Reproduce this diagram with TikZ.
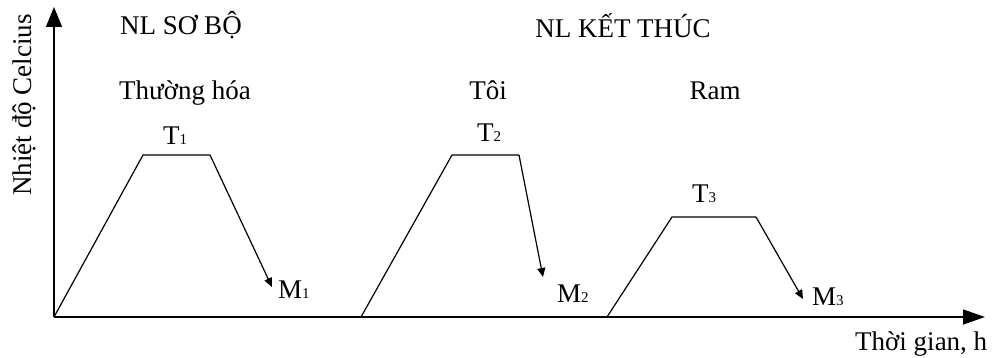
\documentclass[tikz,border=0pt]{standalone}
\usepackage{fontspec}
\setmainfont{Liberation Serif}
\usetikzlibrary{arrows.meta}
\newcommand{\sbs}[1]{{\fontsize{15}{15}\selectfont #1}}
\begin{document}
\begin{tikzpicture}[x=1pt,y=-1pt,
  lbl/.style={font=\fontsize{27}{30}\selectfont, inner sep=0pt, anchor=base},
  curve/.style={line width=1.2pt},
  cool/.style={line width=1.2pt, -{Triangle[length=9pt,width=8pt]}},
  axis/.style={line width=1.4pt}]
\useasboundingbox (0,0) rectangle (993,358);
\fill[white] (0,0) rectangle (993,358);
% axes
\coordinate (O) at (54,317);
\coordinate (ytop) at (54,7);
\coordinate (xend) at (985,317);
\draw[axis, -{Triangle[length=20pt,width=16pt]}] (O) -- (ytop);
\draw[axis, -{Triangle[length=22pt,width=15pt]}] (O) -- (xend);
% cycle 1
\coordinate (a1) at (54,317);
\coordinate (b1) at (143,155);
\coordinate (c1) at (210,155);
\coordinate (d1) at (272,287);
\draw[curve] (a1) -- (b1) -- (c1);
\draw[cool] (c1) -- (d1);
% cycle 2
\coordinate (a2) at (361,317);
\coordinate (b2) at (452,155);
\coordinate (c2) at (519,155);
\coordinate (d2) at (543,277);
\draw[curve] (a2) -- (b2) -- (c2);
\draw[cool] (c2) -- (d2);
% cycle 3
\coordinate (a3) at (607,317);
\coordinate (b3) at (672,217);
\coordinate (c3) at (756,217);
\coordinate (d3) at (803,299);
\draw[curve] (a3) -- (b3) -- (c3);
\draw[cool] (c3) -- (d3);
% labels
\node[lbl, rotate=90, anchor=center] (ylab) at (24,105) {Nhiệt độ Celcius};
\node[lbl] (nl1) at (181,35) {NL SƠ BỘ};
\node[lbl] (nl2) at (623,38) {NL KẾT THÚC};
\node[lbl] (th) at (185,100) {Thường hóa};
\node[lbl] (toi) at (488,100) {Tôi};
\node[lbl] (ram) at (715,100) {Ram};
\node[lbl, anchor=base west] (t1) at (163,145) {T\sbs{1}};
\node[lbl, anchor=base west] (t2) at (477,142) {T\sbs{2}};
\node[lbl, anchor=base west] (t3) at (692,203) {T\sbs{3}};
\node[lbl, anchor=base west] (m1) at (278,298) {M\sbs{1}};
\node[lbl, anchor=base west] (m2) at (557,302) {M\sbs{2}};
\node[lbl, anchor=base west] (m3) at (812,305) {M\sbs{3}};
\node[lbl, anchor=base west] (xlab) at (855,350) {Thời gian, h};
\end{tikzpicture}
\end{document}
